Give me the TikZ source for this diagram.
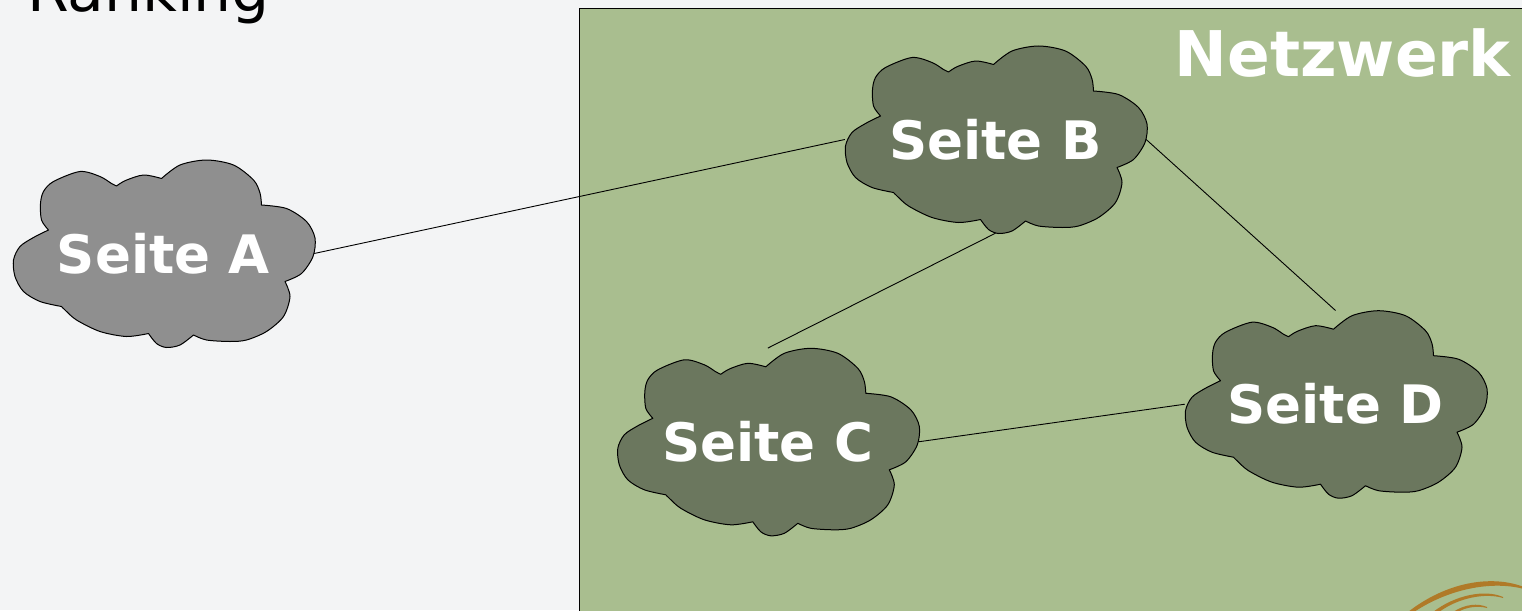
\documentclass[tikz,border=0pt]{standalone}
\usepackage{fontspec}
\setmainfont{DejaVu Sans}
\definecolor{bgcol}{HTML}{F3F4F5}
\definecolor{netgreen}{HTML}{A9BE8F}
\definecolor{cloudgray}{HTML}{8F8F8F}
\definecolor{clouddark}{HTML}{6B775E}
\definecolor{goldarc}{HTML}{B07A28}
\tikzset{
  cloudpic/.pic={
    \path[pic actions]
      plot[smooth] coordinates {(-47,-67.5) (-38,-73) (-20,-78.5) (-2,-75)}
      -- plot[smooth] coordinates {(-2,-75) (16.5,-88.5) (43,-93.5) (70,-88.5) (90,-73.5) (96.5,-60.5) (98,-48.5)}
      -- plot[smooth] coordinates {(98,-48.5) (123,-45) (143,-32) (151.5,-15.5) (149.5,3) (138,20) (121.5,28)}
      -- plot[smooth] coordinates {(121.5,28) (126.5,43) (120,63) (103,78) (83,86.5) (66.5,88) (43,86.5) (30,81.5)}
      -- plot[smooth] coordinates {(30,81.5) (16.5,91.5) (3,94) (-7,90) (-15,80)}
      -- plot[smooth] coordinates {(-15,80) (-37,83) (-63.5,78) (-87,66.5) (-98.5,56.5) (-102,53)}
      -- plot[smooth] coordinates {(-102,53) (-123.5,48) (-140,38) (-148.5,23) (-150,6.5) (-143.5,-7) (-130,-16) (-115,-23.5)}
      -- plot[smooth] coordinates {(-115,-23.5) (-122,-33.5) (-123,-50) (-120,-62) (-110,-72) (-83.5,-82) (-63.5,-77) (-52,-70) (-47,-67.5)}
      -- cycle;
  },
  cloudlabel/.style={text=white, font=\bfseries\fontsize{53}{60}\selectfont,
    minimum width=301pt, minimum height=187pt, inner sep=0pt},
  conn/.style={draw=black, line width=0.9pt},
  cloudline/.style={draw=black, line width=1pt, line join=round},
}
\begin{document}
\begin{tikzpicture}[x=1pt,y=-1pt]
  \useasboundingbox (0,0) rectangle (1522,610);
  \clip (0,0) rectangle (1522,610);
  \fill[bgcol] (0,0) rectangle (1522,610);
  % network area
  \draw[fill=netgreen, line width=1.4pt] (579.5,8.5) rectangle (1540,630);
  % title
  \node[anchor=base west, inner sep=0pt, font=\fontsize{60}{70}\selectfont] (title) at (27,12) {Ranking};
  \node[anchor=base east, inner sep=0pt, text=white, font=\bfseries\fontsize{63}{70}\selectfont] (net) at (1511,77) {Netzwerk};
  % gold arcs
  \fill[goldarc] (1408,612) .. controls (1445,583) and (1490,574) .. (1524,587)
     -- (1524,589) .. controls (1490,580) and (1447,590) .. (1414,612) -- cycle;
  \fill[goldarc] (1433,612) .. controls (1455,595) and (1485,589) .. (1503,597)
     -- (1503,598) .. controls (1485,592.5) and (1458,598) .. (1439,612) -- cycle;
  \fill[goldarc] (1453,612) .. controls (1465,604) and (1478,603) .. (1487,607)
     -- (1487,608) .. controls (1478,605.5) and (1466,607) .. (1458,612) -- cycle;
  % clouds
  \pic[cloudline, fill=cloudgray] at (163.5,253.5) {cloudpic};
  \pic[cloudline, fill=clouddark] at (995.5,139.5) {cloudpic};
  \pic[cloudline, fill=clouddark] at (767.8,441.8) {cloudpic};
  \pic[cloudline, fill=clouddark] at (1335.5,404.2) {cloudpic};
  \node[cloudlabel] (A) at (163.5,253.5) {Seite A};
  \node[cloudlabel] (B) at (995.5,139.5) {Seite B};
  \node[cloudlabel] (C) at (767.8,441.8) {Seite C};
  \node[cloudlabel] (D) at (1335.5,404.2) {Seite D};
  % connectors
  \draw[conn] (A.east) -- (B.west);
  \draw[conn] (B.east) -- (D.north);
  \draw[conn] (B.south) -- (C.north);
  \draw[conn] (C.east) -- (D.west);
\end{tikzpicture}
\end{document}
